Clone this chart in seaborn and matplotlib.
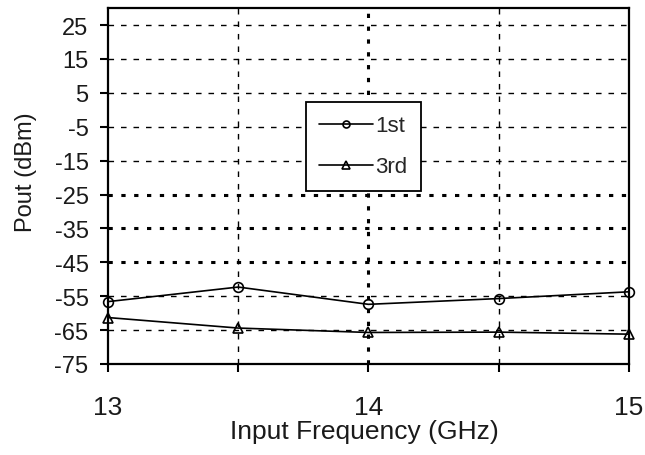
import matplotlib
matplotlib.use('Agg')
import matplotlib.pyplot as plt
from matplotlib.ticker import MultipleLocator, FuncFormatter
import seaborn as sns
import pandas as pd

# values
freq = [13.0, 13.5, 14.0, 14.5, 15.0]
pout_1st = [-56.6, -52.3, -57.4, -55.7, -53.7]
pout_3rd = [-61.3, -64.4, -65.7, -65.6, -66.2]
series_names = ['1st', '3rd']
y_ticks = [25, 15, 5, -5, -15, -25, -35, -45, -55, -65, -75]
x_labels = {13: '13', 14: '14', 15: '15'}


def main():
    sns.set_style('white')
    plt.rcParams['font.family'] = ['Liberation Sans', 'DejaVu Sans']
    plt.rcParams['axes.unicode_minus'] = False

    data = pd.DataFrame({
        'freq': freq * 2,
        'pout': pout_1st + pout_3rd,
        'series': [series_names[0]] * len(freq) + [series_names[1]] * len(freq),
    })

    fig, ax = plt.subplots(figsize=(6.45, 4.56), dpi=100)
    fig.subplots_adjust(left=0.1674, right=0.975, top=0.980, bottom=0.1996)

    thin = dict(color='black', lw=1.0, ls=(0, (4, 5)), zorder=1)
    thick = dict(color='black', lw=2.2, ls=(0, (1.4, 2.8)), zorder=1)

    # gridlines
    for y in y_ticks[:-1]:
        ax.axhline(y, **(thick if y in (-25, -35, -45) else thin))
    for x in [13.5, 14.5]:
        ax.axvline(x, **thin)
    ax.axvline(14.0, **thick)

    sns.lineplot(data=data, x='freq', y='pout', hue='series', style='series',
                 markers={'1st': 'o', '3rd': '^'}, dashes=False,
                 palette={'1st': 'black', '3rd': 'black'},
                 markersize=7, markerfacecolor='none', markeredgecolor='black',
                 markeredgewidth=1.2, linewidth=1.2, ax=ax, zorder=3,
                 clip_on=False)

    ax.set_xlim(13, 15)
    ax.set_ylim(-75, 30)
    ax.xaxis.set_major_locator(MultipleLocator(0.5))
    ax.xaxis.set_major_formatter(FuncFormatter(lambda v, p: x_labels.get(round(v, 3), '')))
    ax.xaxis.set_minor_locator(MultipleLocator(0.25))
    ax.set_yticks(y_ticks)
    ax.yaxis.set_minor_locator(MultipleLocator(5))

    ax.tick_params(axis='both', which='major', direction='out', length=6,
                   width=1.5, color='black', labelcolor='#1a1a1a')
    ax.tick_params(axis='x', which='major', pad=16, labelsize=19)
    ax.tick_params(axis='y', which='major', pad=8, labelsize=17)
    ax.tick_params(axis='both', which='minor', direction='in', length=4.5,
                   width=1.3, color='black')
    ax.tick_params(left=True, bottom=True)

    for side in ['left', 'bottom', 'top', 'right']:
        ax.spines[side].set_color('black')
        ax.spines[side].set_linewidth(1.6)

    ax.set_xlabel('Input Frequency (GHz)', fontsize=19, color='#1a1a1a')
    ax.set_ylabel('Pout (dBm)', fontsize=17, color='#1a1a1a')
    ax.xaxis.set_label_coords(0.493, -0.155)
    ax.yaxis.set_label_coords(-0.136, 0.542)

    leg = ax.legend(loc='upper left', bbox_to_anchor=(0.38, 0.736),
                    fontsize=16, frameon=True, fancybox=False,
                    handlelength=2.43, handletextpad=0.1, borderpad=0.6,
                    labelspacing=0.9, borderaxespad=0)
    leg.get_frame().set_edgecolor('black')
    leg.get_frame().set_linewidth(1.3)
    leg.get_frame().set_alpha(1)
    for h, ms in zip(leg.legend_handles, [5, 6]):
        h.set_markersize(ms)
        h.set_markerfacecolor('none')
        h.set_markeredgecolor('black')
        h.set_color('black')

    fig.savefig('out.png', dpi=100)


if __name__ == '__main__':
    main()
